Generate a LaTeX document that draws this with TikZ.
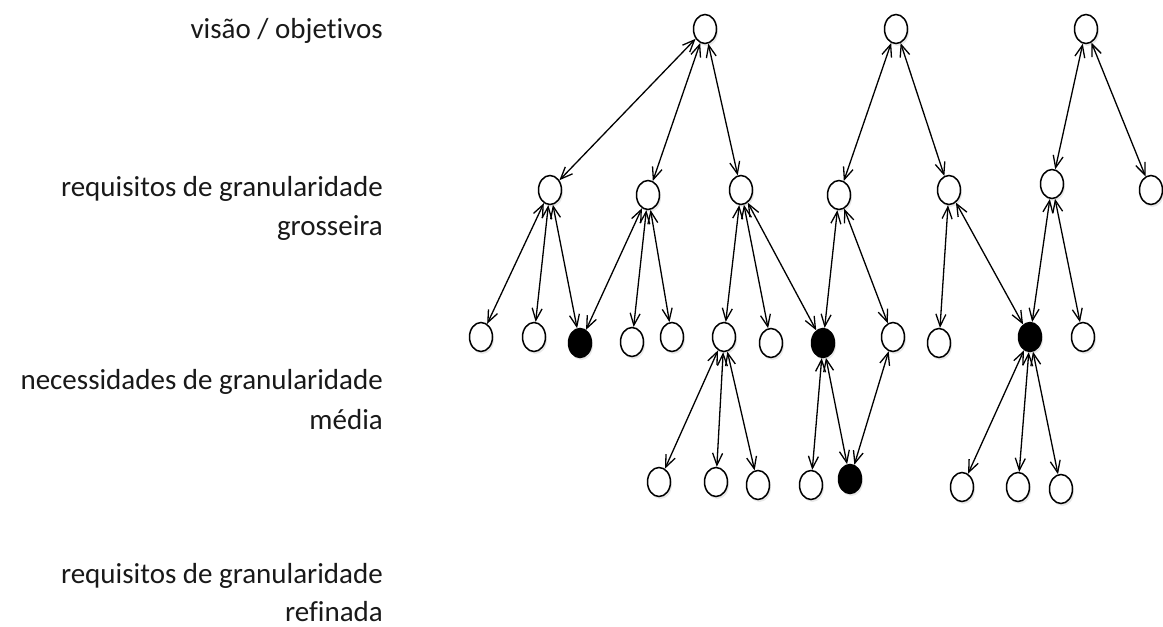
\documentclass[tikz,border=0pt]{standalone}
\usepackage{fontspec}
\setmainfont{Carlito}[Ligatures=NoCommon]
\usetikzlibrary{arrows.meta,shapes.geometric,shadows}
\begin{document}
\begin{tikzpicture}[x=1pt,y=-1pt,
  goal/.style={ellipse,draw,line width=1.5pt,fill=white,minimum width=23pt,minimum height=29pt,inner sep=0pt,
    drop shadow={shadow xshift=1.5pt,shadow yshift=-2.5pt,opacity=0.18}},
  done/.style={goal,fill=black},
  link/.style={{Straight Barb[length=12pt,width=10pt]}-{Straight Barb[length=12pt,width=10pt]},line width=1.3pt},
  level/.style={anchor=base east,inner sep=0pt,text=black!90,font=\fontsize{29}{39}\selectfont}]
\useasboundingbox (0,0) rectangle (1163,627);

% level captions, one node per line
\node[level] (l1) at (383,38) {visão / objetivos};
\node[level] (l2a) at (383,196) {requisitos de granularidade};
\node[level] (l2b) at (383,235) {grosseira};
\node[level] (l3a) at (383,389) {necessidades de granularidade};
\node[level] (l3b) at (383,429) {média};
\node[level] (l4a) at (383,583) {requisitos de granularidade};
\node[level] (l4b) at (383,621) {refinada};

% vision / objectives
\node[goal] (a1) at (705,29) {};
\node[goal] (a2) at (896,29) {};
\node[goal] (a3) at (1086,29) {};

% coarse requirements
\node[goal] (b1) at (550,190) {};
\node[goal] (b2) at (648,195) {};
\node[goal] (b3) at (741,190) {};
\node[goal] (b4) at (839,195) {};
\node[goal] (b5) at (949,190) {};
\node[goal] (b6) at (1052,184) {};
\node[goal] (b7) at (1151,190) {};

% medium needs
\node[goal] (c1) at (481,337) {};
\node[goal] (c2) at (534,337) {};
\node[done] (c3) at (580,343) {};
\node[goal] (c4) at (632,342) {};
\node[goal] (c5) at (672,337) {};
\node[goal] (c6) at (724,337) {};
\node[goal] (c7) at (771,343) {};
\node[done] (c8) at (823,343) {};
\node[goal] (c9) at (893,337) {};
\node[goal] (c10) at (939,343) {};
\node[done] (c11) at (1030,337) {};
\node[goal] (c12) at (1083,337) {};

% fine requirements
\node[goal] (d1) at (659,482) {};
\node[goal] (d2) at (716,482) {};
\node[goal] (d3) at (758,485) {};
\node[goal] (d4) at (811,485) {};
\node[done] (d5) at (850,479) {};
\node[goal] (d6) at (962,487) {};
\node[goal] (d7) at (1018,487) {};
\node[goal] (d8) at (1061,489) {};

% links
\foreach \u/\v in {a1/b1,a1/b2,a1/b3,a2/b4,a2/b5,a3/b6,a3/b7,
  b1/c1,b1/c2,b1/c3,b2/c3,b2/c4,b2/c5,b3/c6,b3/c7,b3/c8,
  b4/c8,b4/c9,b5/c10,b5/c11,b6/c11,b6/c12,
  c6/d1,c6/d2,c6/d3,c8/d4,c8/d5,c9/d5,c11/d6,c11/d7,c11/d8}
  \draw[link] (\u) -- (\v);
\end{tikzpicture}
\end{document}
